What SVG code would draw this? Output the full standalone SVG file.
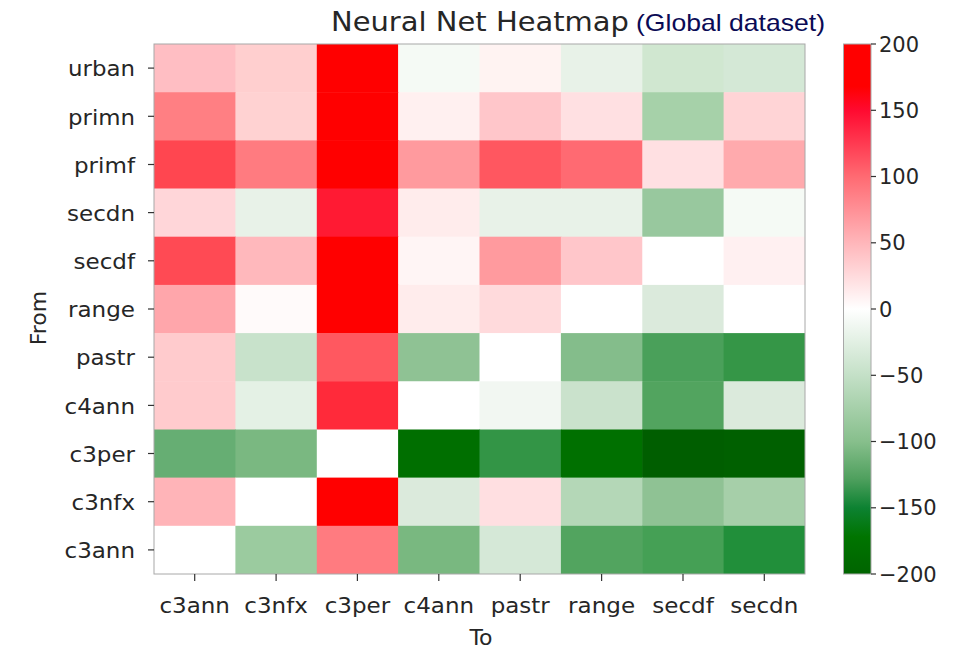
<svg xmlns="http://www.w3.org/2000/svg" width="969" height="649" viewBox="0 0 969 649">
<style>
.t{font-family:"DejaVu Sans",sans-serif;font-size:22px;fill:#262626}
.cbl{font-family:"DejaVu Sans",sans-serif;font-size:21px;fill:#262626}
.tk{stroke:#333;stroke-width:1.2}
.c{stroke:none}
</style>
<defs>
<linearGradient id="cb" x1="0" y1="0" x2="0" y2="1">
<stop offset="0" stop-color="#ff0000"/>
<stop offset="0.08" stop-color="#ff0000"/>
<stop offset="0.125" stop-color="#ff0a30"/>
<stop offset="0.25" stop-color="#ff6a72"/>
<stop offset="0.375" stop-color="#ffb6ba"/>
<stop offset="0.5" stop-color="#ffffff"/>
<stop offset="0.625" stop-color="#c4e0c7"/>
<stop offset="0.75" stop-color="#87bf8c"/>
<stop offset="0.82" stop-color="#4fa05e"/>
<stop offset="0.875" stop-color="#0d8232"/>
<stop offset="0.93" stop-color="#007400"/>
<stop offset="1" stop-color="#006400"/>
</linearGradient>
</defs>
<rect width="969" height="649" fill="#ffffff"/>
<g id="title">
<text x="331" y="31" style="font-family:'DejaVu Sans',sans-serif;font-size:27px;fill:#262626" textLength="298" lengthAdjust="spacingAndGlyphs">Neural Net Heatmap</text>
<text x="636" y="31" style="font-family:'Liberation Sans',Arial,sans-serif;font-size:24px;fill:#0a0a55" textLength="189" lengthAdjust="spacingAndGlyphs">(Global dataset)</text>
</g>
<g id="cells">
<g id="row-urban">
<rect class="c" x="154" y="44" width="82" height="48.7" fill="#ffbec3"/>
<rect class="c" x="235.4" y="44" width="82" height="48.7" fill="#ffcfcf"/>
<rect class="c" x="316.8" y="44" width="82" height="48.7" fill="#ff0000"/>
<rect class="c" x="398.1" y="44" width="82" height="48.7" fill="#f5faf5"/>
<rect class="c" x="479.5" y="44" width="82" height="48.7" fill="#fff3f2"/>
<rect class="c" x="560.9" y="44" width="82" height="48.7" fill="#e8f2e8"/>
<rect class="c" x="642.3" y="44" width="82" height="48.7" fill="#d0e7d0"/>
<rect class="c" x="723.6" y="44" width="81.4" height="48.7" fill="#d4e8d6"/>
</g>
<g id="row-primn">
<rect class="c" x="154" y="92.2" width="82" height="48.7" fill="#ff7f83"/>
<rect class="c" x="235.4" y="92.2" width="82" height="48.7" fill="#ffd2d2"/>
<rect class="c" x="316.8" y="92.2" width="82" height="48.7" fill="#ff0000"/>
<rect class="c" x="398.1" y="92.2" width="82" height="48.7" fill="#fff0f0"/>
<rect class="c" x="479.5" y="92.2" width="82" height="48.7" fill="#ffc6ca"/>
<rect class="c" x="560.9" y="92.2" width="82" height="48.7" fill="#ffe0e2"/>
<rect class="c" x="642.3" y="92.2" width="82" height="48.7" fill="#a6d1a9"/>
<rect class="c" x="723.6" y="92.2" width="81.4" height="48.7" fill="#ffd4d6"/>
</g>
<g id="row-primf">
<rect class="c" x="154" y="140.4" width="82" height="48.7" fill="#ff4650"/>
<rect class="c" x="235.4" y="140.4" width="82" height="48.7" fill="#ff7b80"/>
<rect class="c" x="316.8" y="140.4" width="82" height="48.7" fill="#ff0000"/>
<rect class="c" x="398.1" y="140.4" width="82" height="48.7" fill="#ff9a9e"/>
<rect class="c" x="479.5" y="140.4" width="82" height="48.7" fill="#ff5760"/>
<rect class="c" x="560.9" y="140.4" width="82" height="48.7" fill="#ff6a72"/>
<rect class="c" x="642.3" y="140.4" width="82" height="48.7" fill="#ffe0e2"/>
<rect class="c" x="723.6" y="140.4" width="81.4" height="48.7" fill="#ffaaad"/>
</g>
<g id="row-secdn">
<rect class="c" x="154" y="188.5" width="82" height="48.7" fill="#ffd6d9"/>
<rect class="c" x="235.4" y="188.5" width="82" height="48.7" fill="#e8f2e8"/>
<rect class="c" x="316.8" y="188.5" width="82" height="48.7" fill="#ff1a33"/>
<rect class="c" x="398.1" y="188.5" width="82" height="48.7" fill="#ffecec"/>
<rect class="c" x="479.5" y="188.5" width="82" height="48.7" fill="#e8f2e8"/>
<rect class="c" x="560.9" y="188.5" width="82" height="48.7" fill="#e8f2e8"/>
<rect class="c" x="642.3" y="188.5" width="82" height="48.7" fill="#98c89e"/>
<rect class="c" x="723.6" y="188.5" width="81.4" height="48.7" fill="#f5faf5"/>
</g>
<g id="row-secdf">
<rect class="c" x="154" y="236.7" width="82" height="48.7" fill="#ff4a54"/>
<rect class="c" x="235.4" y="236.7" width="82" height="48.7" fill="#ffb8bc"/>
<rect class="c" x="316.8" y="236.7" width="82" height="48.7" fill="#ff0000"/>
<rect class="c" x="398.1" y="236.7" width="82" height="48.7" fill="#fff5f5"/>
<rect class="c" x="479.5" y="236.7" width="82" height="48.7" fill="#ff9a9e"/>
<rect class="c" x="560.9" y="236.7" width="82" height="48.7" fill="#ffc6ca"/>
<rect class="c" x="642.3" y="236.7" width="82" height="48.7" fill="#ffffff"/>
<rect class="c" x="723.6" y="236.7" width="81.4" height="48.7" fill="#fff0f1"/>
</g>
<g id="row-range">
<rect class="c" x="154" y="284.9" width="82" height="48.7" fill="#ffa6ab"/>
<rect class="c" x="235.4" y="284.9" width="82" height="48.7" fill="#fffafa"/>
<rect class="c" x="316.8" y="284.9" width="82" height="48.7" fill="#ff0000"/>
<rect class="c" x="398.1" y="284.9" width="82" height="48.7" fill="#ffecec"/>
<rect class="c" x="479.5" y="284.9" width="82" height="48.7" fill="#ffdadc"/>
<rect class="c" x="560.9" y="284.9" width="82" height="48.7" fill="#ffffff"/>
<rect class="c" x="642.3" y="284.9" width="82" height="48.7" fill="#dbeadc"/>
<rect class="c" x="723.6" y="284.9" width="81.4" height="48.7" fill="#ffffff"/>
</g>
<g id="row-pastr">
<rect class="c" x="154" y="333.1" width="82" height="48.7" fill="#ffcbcd"/>
<rect class="c" x="235.4" y="333.1" width="82" height="48.7" fill="#c8e2cb"/>
<rect class="c" x="316.8" y="333.1" width="82" height="48.7" fill="#ff5860"/>
<rect class="c" x="398.1" y="333.1" width="82" height="48.7" fill="#8fc294"/>
<rect class="c" x="479.5" y="333.1" width="82" height="48.7" fill="#ffffff"/>
<rect class="c" x="560.9" y="333.1" width="82" height="48.7" fill="#84bd8b"/>
<rect class="c" x="642.3" y="333.1" width="82" height="48.7" fill="#4aa05a"/>
<rect class="c" x="723.6" y="333.1" width="81.4" height="48.7" fill="#359647"/>
</g>
<g id="row-c4ann">
<rect class="c" x="154" y="381.3" width="82" height="48.7" fill="#ffcbcd"/>
<rect class="c" x="235.4" y="381.3" width="82" height="48.7" fill="#e4f1e5"/>
<rect class="c" x="316.8" y="381.3" width="82" height="48.7" fill="#ff2a3a"/>
<rect class="c" x="398.1" y="381.3" width="82" height="48.7" fill="#ffffff"/>
<rect class="c" x="479.5" y="381.3" width="82" height="48.7" fill="#f2f7f2"/>
<rect class="c" x="560.9" y="381.3" width="82" height="48.7" fill="#cae2cc"/>
<rect class="c" x="642.3" y="381.3" width="82" height="48.7" fill="#52a45f"/>
<rect class="c" x="723.6" y="381.3" width="81.4" height="48.7" fill="#dbeadc"/>
</g>
<g id="row-c3per">
<rect class="c" x="154" y="429.5" width="82" height="48.7" fill="#66ae73"/>
<rect class="c" x="235.4" y="429.5" width="82" height="48.7" fill="#7ab881"/>
<rect class="c" x="316.8" y="429.5" width="82" height="48.7" fill="#ffffff"/>
<rect class="c" x="398.1" y="429.5" width="82" height="48.7" fill="#006f00"/>
<rect class="c" x="479.5" y="429.5" width="82" height="48.7" fill="#339546"/>
<rect class="c" x="560.9" y="429.5" width="82" height="48.7" fill="#007000"/>
<rect class="c" x="642.3" y="429.5" width="82" height="48.7" fill="#005e00"/>
<rect class="c" x="723.6" y="429.5" width="81.4" height="48.7" fill="#006000"/>
</g>
<g id="row-c3nfx">
<rect class="c" x="154" y="477.6" width="82" height="48.7" fill="#ffb4b8"/>
<rect class="c" x="235.4" y="477.6" width="82" height="48.7" fill="#ffffff"/>
<rect class="c" x="316.8" y="477.6" width="82" height="48.7" fill="#ff0000"/>
<rect class="c" x="398.1" y="477.6" width="82" height="48.7" fill="#dbeadc"/>
<rect class="c" x="479.5" y="477.6" width="82" height="48.7" fill="#ffdfe1"/>
<rect class="c" x="560.9" y="477.6" width="82" height="48.7" fill="#b4d7b7"/>
<rect class="c" x="642.3" y="477.6" width="82" height="48.7" fill="#8fc294"/>
<rect class="c" x="723.6" y="477.6" width="81.4" height="48.7" fill="#a6cfa9"/>
</g>
<g id="row-c3ann">
<rect class="c" x="154" y="525.8" width="82" height="48.2" fill="#ffffff"/>
<rect class="c" x="235.4" y="525.8" width="82" height="48.2" fill="#9bcb9f"/>
<rect class="c" x="316.8" y="525.8" width="82" height="48.2" fill="#ff7b80"/>
<rect class="c" x="398.1" y="525.8" width="82" height="48.2" fill="#79b880"/>
<rect class="c" x="479.5" y="525.8" width="82" height="48.2" fill="#d5e8d7"/>
<rect class="c" x="560.9" y="525.8" width="82" height="48.2" fill="#52a45f"/>
<rect class="c" x="642.3" y="525.8" width="82" height="48.2" fill="#45a055"/>
<rect class="c" x="723.6" y="525.8" width="81.4" height="48.2" fill="#218f3a"/>
</g>
<rect x="154" y="44" width="651" height="530" fill="none" stroke="#a8a8a8" stroke-width="1"/>
</g>
<g id="y-axis">
<g class="tk">
<line x1="148" y1="68.1" x2="154" y2="68.1"/>
<line x1="148" y1="116.3" x2="154" y2="116.3"/>
<line x1="148" y1="164.5" x2="154" y2="164.5"/>
<line x1="148" y1="212.6" x2="154" y2="212.6"/>
<line x1="148" y1="260.8" x2="154" y2="260.8"/>
<line x1="148" y1="309" x2="154" y2="309"/>
<line x1="148" y1="357.2" x2="154" y2="357.2"/>
<line x1="148" y1="405.4" x2="154" y2="405.4"/>
<line x1="148" y1="453.5" x2="154" y2="453.5"/>
<line x1="148" y1="501.7" x2="154" y2="501.7"/>
<line x1="148" y1="549.9" x2="154" y2="549.9"/>
</g>
<g class="t" text-anchor="end">
<text x="135" y="76.3" textLength="67" lengthAdjust="spacingAndGlyphs">urban</text>
<text x="135" y="124.5" textLength="67" lengthAdjust="spacingAndGlyphs">primn</text>
<text x="135" y="172.7" textLength="61" lengthAdjust="spacingAndGlyphs">primf</text>
<text x="135" y="220.8" textLength="68" lengthAdjust="spacingAndGlyphs">secdn</text>
<text x="135" y="269" textLength="61.5" lengthAdjust="spacingAndGlyphs">secdf</text>
<text x="135" y="317.2" textLength="67" lengthAdjust="spacingAndGlyphs">range</text>
<text x="135" y="365.4" textLength="59" lengthAdjust="spacingAndGlyphs">pastr</text>
<text x="135" y="413.6" textLength="70.5" lengthAdjust="spacingAndGlyphs">c4ann</text>
<text x="135" y="461.7" textLength="65.5" lengthAdjust="spacingAndGlyphs">c3per</text>
<text x="135" y="509.9" textLength="63.5" lengthAdjust="spacingAndGlyphs">c3nfx</text>
<text x="135" y="558.1" textLength="70.5" lengthAdjust="spacingAndGlyphs">c3ann</text>
</g>
<text class="t" transform="translate(46,318) rotate(-90)" text-anchor="middle">From</text>
</g>
<g id="x-axis">
<g class="tk">
<line x1="194.7" y1="574" x2="194.7" y2="581"/>
<line x1="276.1" y1="574" x2="276.1" y2="581"/>
<line x1="357.4" y1="574" x2="357.4" y2="581"/>
<line x1="438.8" y1="574" x2="438.8" y2="581"/>
<line x1="520.2" y1="574" x2="520.2" y2="581"/>
<line x1="601.6" y1="574" x2="601.6" y2="581"/>
<line x1="683" y1="574" x2="683" y2="581"/>
<line x1="764.3" y1="574" x2="764.3" y2="581"/>
</g>
<g class="t" text-anchor="middle">
<text x="194.7" y="613" textLength="70.5" lengthAdjust="spacingAndGlyphs">c3ann</text>
<text x="276.1" y="613" textLength="63.5" lengthAdjust="spacingAndGlyphs">c3nfx</text>
<text x="357.4" y="613" textLength="65.5" lengthAdjust="spacingAndGlyphs">c3per</text>
<text x="438.8" y="613" textLength="70.5" lengthAdjust="spacingAndGlyphs">c4ann</text>
<text x="520.2" y="613" textLength="59" lengthAdjust="spacingAndGlyphs">pastr</text>
<text x="601.6" y="613" textLength="67" lengthAdjust="spacingAndGlyphs">range</text>
<text x="683" y="613" textLength="61.5" lengthAdjust="spacingAndGlyphs">secdf</text>
<text x="764.3" y="613" textLength="68" lengthAdjust="spacingAndGlyphs">secdn</text>
</g>
<text class="t" x="481" y="645" text-anchor="middle">To</text>
</g>
<g id="colorbar">
<rect x="843.5" y="44" width="27.5" height="530" fill="url(#cb)" stroke="#a8a8a8" stroke-width="1"/>
<g class="tk">
<line x1="871" y1="44" x2="876" y2="44"/>
<line x1="871" y1="110.3" x2="876" y2="110.3"/>
<line x1="871" y1="176.5" x2="876" y2="176.5"/>
<line x1="871" y1="242.8" x2="876" y2="242.8"/>
<line x1="871" y1="309" x2="876" y2="309"/>
<line x1="871" y1="375.3" x2="876" y2="375.3"/>
<line x1="871" y1="441.5" x2="876" y2="441.5"/>
<line x1="871" y1="507.8" x2="876" y2="507.8"/>
<line x1="871" y1="574" x2="876" y2="574"/>
</g>
<g class="cbl">
<text x="879" y="51.6">200</text>
<text x="879" y="117.9">150</text>
<text x="879" y="184.1">100</text>
<text x="879" y="250.4">50</text>
<text x="879" y="316.6">0</text>
<text x="879" y="382.9">−50</text>
<text x="879" y="449.1">−100</text>
<text x="879" y="515.4">−150</text>
<text x="879" y="581.6">−200</text>
</g>
</g>
</svg>
